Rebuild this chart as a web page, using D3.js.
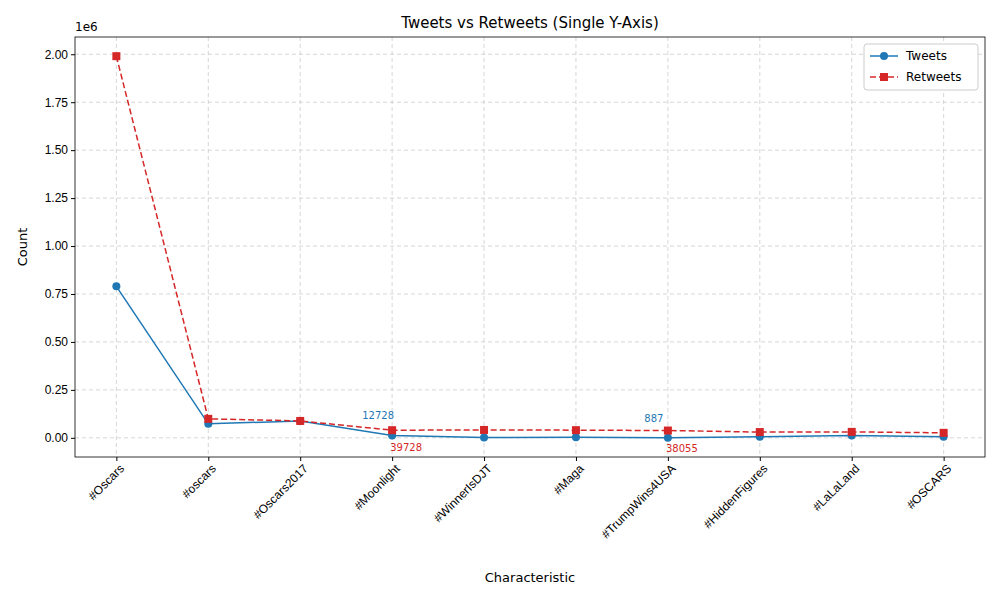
<!DOCTYPE html>
<html><head><meta charset="utf-8">
<script src="https://cdn.jsdelivr.net/npm/d3@7"></script>
<style>body{margin:0;background:#fff;font-family:"DejaVu Sans",sans-serif}</style>
</head><body>
<script>
const categories = ["#Oscars","#oscars","#Oscars2017","#Moonlight","#WinnerIsDJT","#Maga","#TrumpWins4USA","#HiddenFigures","#LaLaLand","#OSCARS"];
const tweets = [790000, 73000, 88000, 12728, 2000, 2500, 887, 5000, 12000, 6000];
const retweets = [1990000, 99000, 88000, 39728, 41000, 40000, 38055, 30000, 31000, 26000];
const yTicks = [0, 0.25, 0.5, 0.75, 1.0, 1.25, 1.5, 1.75, 2.0];
const annotated = [3, 6];

const W = 1000, H = 600, m = {l: 75, r: 15, t: 37, b: 143};
const svg = d3.select("body").append("svg").attr("width", W).attr("height", H);

const x = d3.scalePoint().domain(categories).range([m.l, W - m.r]).padding(0.45);
const y = d3.scaleLinear().domain([-0.1e6, 2.09e6]).range([H - m.b, m.t]);

// grid
svg.append("g").selectAll("line").data(categories).join("line")
  .attr("x1", d => x(d)).attr("x2", d => x(d)).attr("y1", m.t).attr("y2", H - m.b)
  .attr("stroke", "#ccc").attr("stroke-dasharray", "4,3").attr("stroke-width", 0.8);
svg.append("g").selectAll("line").data(yTicks).join("line")
  .attr("x1", m.l).attr("x2", W - m.r).attr("y1", d => y(d * 1e6)).attr("y2", d => y(d * 1e6))
  .attr("stroke", "#ccc").attr("stroke-dasharray", "4,3").attr("stroke-width", 0.8);

// axes
const xAxis = svg.append("g").attr("transform", `translate(0,${H - m.b})`)
  .call(d3.axisBottom(x).tickSizeOuter(0).tickSize(4));
xAxis.select(".domain").remove();
xAxis.selectAll("text").attr("font-size", 12).attr("fill", "#000")
  .attr("text-anchor", "end").attr("x", -3).attr("y", 6).attr("dy", "0.7em").attr("transform", "rotate(-45)");
const yAxis = svg.append("g").attr("transform", `translate(${m.l},0)`)
  .call(d3.axisLeft(y).tickValues(yTicks.map(v => v * 1e6)).tickFormat(v => (v / 1e6).toFixed(2)).tickSize(4).tickSizeOuter(0));
yAxis.select(".domain").remove();
yAxis.selectAll("text").attr("font-size", 12).attr("fill", "#000");
svg.append("rect").attr("x", m.l).attr("y", m.t).attr("width", W - m.l - m.r).attr("height", H - m.t - m.b)
  .attr("fill", "none").attr("stroke", "#000").attr("stroke-width", 0.8);

svg.append("text").attr("x", m.l).attr("y", m.t - 6).attr("font-size", 12).text("1e6");
svg.append("text").attr("x", (m.l + W - m.r) / 2).attr("y", 28).attr("text-anchor", "middle").attr("font-size", 15).text("Tweets vs Retweets (Single Y-Axis)");
svg.append("text").attr("x", (m.l + W - m.r) / 2).attr("y", 582).attr("text-anchor", "middle").attr("font-size", 13).text("Characteristic");
svg.append("text").attr("transform", `translate(27,${(m.t + H - m.b) / 2}) rotate(-90)`).attr("text-anchor", "middle").attr("font-size", 13).text("Count");

const line = d3.line().x((d, i) => x(categories[i])).y(d => y(d));
svg.append("path").datum(tweets).attr("d", line).attr("fill", "none").attr("stroke", "#1f77b4").attr("stroke-width", 1.5);
svg.append("g").selectAll("circle").data(tweets).join("circle")
  .attr("cx", (d, i) => x(categories[i])).attr("cy", d => y(d)).attr("r", 4).attr("fill", "#1f77b4");
svg.append("path").datum(retweets).attr("d", line).attr("fill", "none").attr("stroke", "#d62728").attr("stroke-width", 1.5).attr("stroke-dasharray", "6,3");
svg.append("g").selectAll("rect").data(retweets).join("rect")
  .attr("x", (d, i) => x(categories[i]) - 4).attr("y", d => y(d) - 4).attr("width", 8).attr("height", 8).attr("fill", "#d62728");

annotated.forEach(i => {
  svg.append("text").attr("x", x(categories[i]) - 14).attr("y", y(tweets[i]) - 16).attr("text-anchor", "middle")
    .attr("font-size", 10).attr("fill", "#1f77b4").text(tweets[i]);
  svg.append("text").attr("x", x(categories[i]) + 14).attr("y", y(retweets[i]) + 21).attr("text-anchor", "middle")
    .attr("font-size", 10).attr("fill", "#d62728").text(retweets[i]);
});

// legend
const lg = svg.append("g").attr("transform", "translate(864,44)");
lg.append("rect").attr("width", 114).attr("height", 46).attr("rx", 3).attr("fill", "#fff").attr("stroke", "#ccc");
lg.append("line").attr("x1", 6).attr("x2", 34).attr("y1", 12).attr("y2", 12).attr("stroke", "#1f77b4").attr("stroke-width", 1.5);
lg.append("circle").attr("cx", 20).attr("cy", 12).attr("r", 4).attr("fill", "#1f77b4");
lg.append("text").attr("x", 42).attr("y", 16).attr("font-size", 12).text("Tweets");
lg.append("line").attr("x1", 6).attr("x2", 34).attr("y1", 33).attr("y2", 33).attr("stroke", "#d62728").attr("stroke-width", 1.5).attr("stroke-dasharray", "6,3");
lg.append("rect").attr("x", 16).attr("y", 29).attr("width", 8).attr("height", 8).attr("fill", "#d62728");
lg.append("text").attr("x", 42).attr("y", 37).attr("font-size", 12).text("Retweets");
</script>
</body></html>
